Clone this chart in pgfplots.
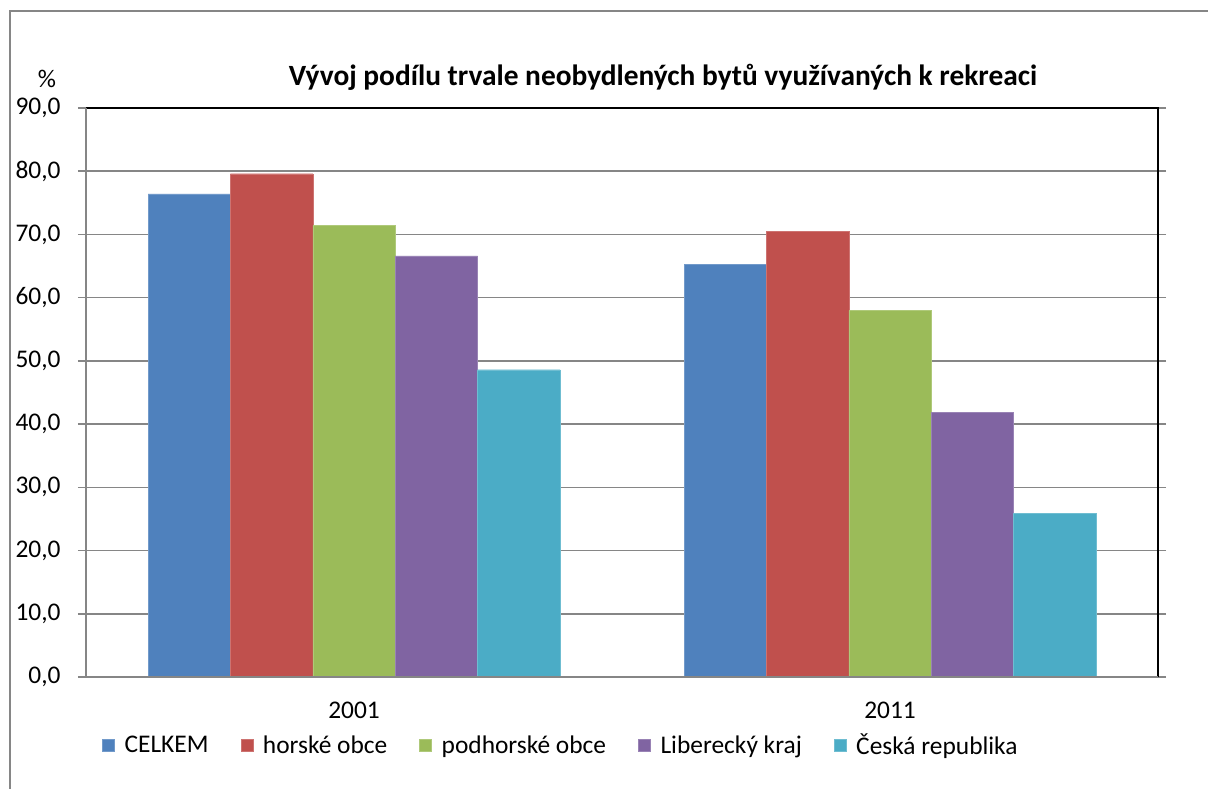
\documentclass[border=0pt]{standalone}
\usepackage{fontspec}
\setmainfont{Carlito}
\usepackage{pgfplots}
\pgfplotsset{compat=1.18}
\definecolor{cA}{HTML}{4F81BD}
\definecolor{cB}{HTML}{C0504D}
\definecolor{cC}{HTML}{9BBB59}
\definecolor{cD}{HTML}{8064A2}
\definecolor{cE}{HTML}{4BACC6}
\definecolor{gridg}{HTML}{868686}
\begin{document}
\begin{tikzpicture}[x=1bp,y=1bp]
\useasboundingbox (0,0) rectangle (1208,789);
\draw[gridg, line width=1.5bp] (10,0) -- (10,778) -- (1208,778);
\node[font=\fontsize{29.5}{33}\selectfont\bfseries] at (663,712) {Vývoj podílu trvale neobydlených bytů využívaných k rekreaci};
\node[font=\fontsize{25.5}{30}\selectfont] at (47,710) {\%};
\begin{axis}[
  at={(86bp,112bp)}, anchor=south west,
  width=1072bp, height=569bp, scale only axis,
  xmin=-0.5, xmax=1.5, ymin=0, ymax=90,
  ybar=0pt, bar width=82.4bp,
  axis line style={draw=none},
  xtick={0,1}, xticklabels={2001,2011},
  major x tick style={draw=none},
  extra x ticks={-0.5,0.5,1.5}, extra x tick labels={},
  extra x tick style={grid=none, major tick length=8bp, tick style={gridg, line width=1.6bp}},
  ytick={0,10,...,90},
  tick align=outside, major tick length=8bp,
  ytick style={gridg, line width=1.6bp},
  ymajorgrids, grid style={gridg, line width=1.6bp},
  yticklabel={\pgfmathprintnumber[fixed,fixed zerofill,precision=1,use comma]{\tick}},
  /pgf/number format/assume math mode=true,
  tick label style={font=\fontsize{25.5}{30}\selectfont, text=black},
  yticklabel style={xshift=-14bp},
  xticklabel style={yshift=-13bp},
  legend columns=5,
  legend style={draw=none, fill=none, font=\fontsize{25.5}{30}\selectfont,
    at={(axis description cs:0.443,-0.12)}, anchor=center,
    /tikz/every odd column/.append style={column sep=8bp},
    /tikz/every even column/.append style={column sep=30bp}},
  legend image code/.code={\fill[#1] (0bp,-6bp) rectangle (12bp,6bp);},
  clip=false,
]
\addplot[fill=cA, draw=cA!80!white] coordinates {(0,76.4) (1,65.3)};
\addplot[fill=cB, draw=cB!80!white] coordinates {(0,79.6) (1,70.5)};
\addplot[fill=cC, draw=cC!80!white] coordinates {(0,71.4) (1,58.0)};
\addplot[fill=cD, draw=cD!80!white] coordinates {(0,66.6) (1,41.9)};
\addplot[fill=cE, draw=cE!80!white] coordinates {(0,48.6) (1,25.9)};
\legend{CELKEM, horské obce, podhorské obce, Liberecký kraj, Česká republika}
\draw[black, line width=1.8bp] (rel axis cs:0,1) -- (rel axis cs:1,1) -- (rel axis cs:1,0);
\draw[gridg, line width=1.6bp] (rel axis cs:0,1) -- (rel axis cs:0,0) -- (rel axis cs:1,0);
\end{axis}
\end{tikzpicture}
\end{document}
